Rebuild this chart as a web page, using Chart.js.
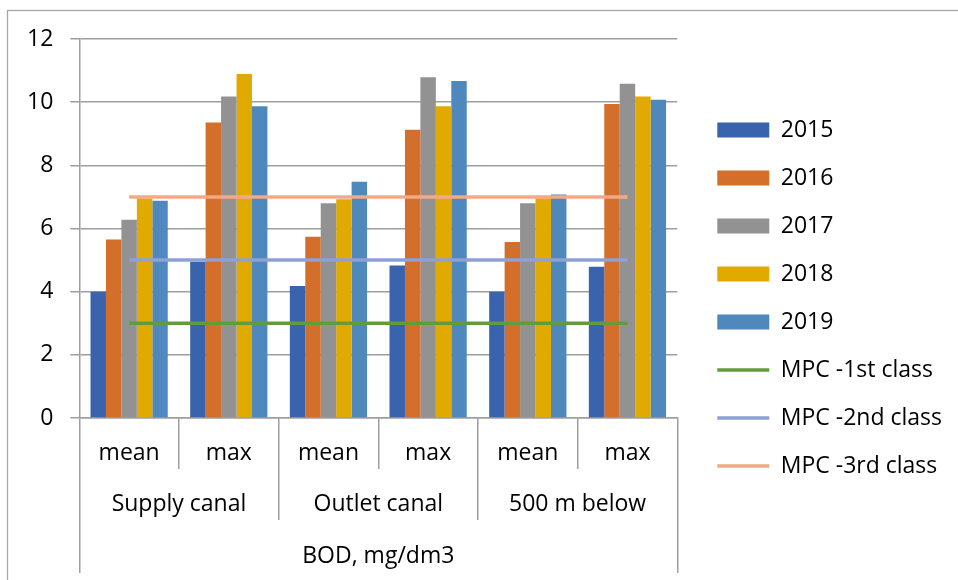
<!DOCTYPE html>
<html>
<head>
<meta charset="utf-8">
<script src="https://cdn.jsdelivr.net/npm/chart.js@4.4.0/dist/chart.umd.min.js"></script>
<style>
    html, body { margin: 0; padding: 0; background: #fff; }
    #wrap { width: 958px; height: 580px; }
</style>
</head>
<body>
<div id="wrap"><canvas id="bodChart" width="958" height="580"></canvas></div>
<script>
// ==================== Data ====================
const subLabels = ['mean', 'max', 'mean', 'max', 'mean', 'max'];
const siteLabels = ['Supply canal', 'Outlet canal', '500 m below'];
const paramLabel = ['BOD, mg/dm3'];
const years = ['2015', '2016', '2017', '2018', '2019'];

const bod2015 = [4.0, 4.95, 4.18, 4.83, 4.0, 4.79];
const bod2016 = [5.65, 9.36, 5.74, 9.13, 5.57, 9.94];
const bod2017 = [6.28, 10.18, 6.8, 10.79, 6.8, 10.58];
const bod2018 = [6.95, 10.89, 6.93, 9.87, 6.96, 10.18];
const bod2019 = [6.88, 9.87, 7.48, 10.67, 7.08, 10.08];

const mpcNames = ['MPC -1st class', 'MPC -2nd class', 'MPC -3rd class'];
const mpcLimits = [3, 5, 7];

const yMin = 0;
const yMax = 12;
const yStep = 2;

// ==================== Styles ====================
const yearColors = ['#3a63ad', '#d46e2b', '#929292', '#e0aa00', '#4f88bd'];
const mpcColors = ['#629b3c', '#8ea0d5', '#f3a887'];
const gridColor = '#9e9e9e';
const textColor = '#000';
const labelFont = { family: 'Open Sans', size: 23 };

const yearSeries = [bod2015, bod2016, bod2017, bod2018, bod2019];

const datasets = [];
years.forEach((year, i) => {
    datasets.push({
        type: 'bar',
        label: year,
        data: yearSeries[i],
        backgroundColor: yearColors[i],
        borderWidth: 0,
        categoryPercentage: 0.775,
        barPercentage: 1.0,
        order: 1
    });
});
mpcNames.forEach((name, i) => {
    datasets.push({
        type: 'line',
        label: name,
        data: subLabels.map(() => mpcLimits[i]),
        borderColor: mpcColors[i],
        backgroundColor: mpcColors[i],
        borderWidth: 3.5,
        pointRadius: 0,
        fill: false,
        order: 0
    });
});

// white page with the outer chart frame
const framePlugin = {
    id: 'frame',
    beforeDraw(chart) {
        const ctx = chart.ctx;
        ctx.save();
        ctx.fillStyle = '#fff';
        ctx.fillRect(0, 0, chart.width, chart.height);
        ctx.strokeStyle = '#a6a6a6';
        ctx.lineWidth = 1.3;
        ctx.strokeRect(7.5, 10.5, chart.width + 20, chart.height + 20);
        ctx.restore();
    }
};

// one row of the multi-level category axis
function levelAxis(labels, weight, rowHeight, showBorder) {
    return {
        type: 'category',
        labels: labels,
        position: 'bottom',
        weight: weight,
        offset: true,
        grid: {
            offset: true,
            drawOnChartArea: false,
            tickLength: rowHeight,
            color: gridColor,
            lineWidth: 1.5
        },
        border: { display: showBorder, color: gridColor, width: 1.5 },
        ticks: {
            font: labelFont,
            color: textColor,
            padding: -(rowHeight / 2 + 4),
            maxRotation: 0,
            autoSkip: false
        },
        afterFit(scale) {
            scale.height = rowHeight;
        }
    };
}

// empty spacer box, only reserves room in the layout
function spacer(position, size) {
    const horizontal = position === 'top' || position === 'bottom';
    return {
        type: horizontal ? 'category' : 'linear',
        position: position,
        display: true,
        grid: { display: false },
        border: { display: false },
        ticks: { display: false },
        afterFit(scale) {
            if (horizontal) scale.height = size;
            else scale.width = size;
        }
    };
}

const xSub = levelAxis(subLabels, 0, 51, true);
delete xSub.labels;

new Chart(document.getElementById('bodChart'), {
    data: {
        labels: subLabels,
        datasets: datasets
    },
    options: {
        responsive: false,
        animation: false,
        devicePixelRatio: 1,
        layout: {
            padding: { left: 10, top: 23, right: 6, bottom: 7 }
        },
        plugins: {
            legend: {
                position: 'right',
                align: 'center',
                maxWidth: 320,
                labels: {
                    font: labelFont,
                    color: textColor,
                    usePointStyle: true,
                    pointStyleWidth: 52,
                    boxHeight: 15,
                    padding: 25,
                    sort: (a, b) => a.datasetIndex - b.datasetIndex,
                    generateLabels(chart) {
                        const items = Chart.defaults.plugins.legend.labels.generateLabels(chart);
                        items.forEach(item => {
                            const ds = chart.data.datasets[item.datasetIndex];
                            item.pointStyle = ds.type === 'line' ? 'line' : 'rect';
                        });
                        return items;
                    }
                }
            },
            tooltip: { enabled: false }
        },
        scales: {
            x: xSub,
            x2: levelAxis(siteLabels, 1, 51, false),
            x3: levelAxis(paramLabel, 2, 53, false),
            y: {
                min: yMin,
                max: yMax,
                ticks: {
                    stepSize: yStep,
                    font: labelFont,
                    color: textColor,
                    padding: 17
                },
                grid: {
                    color: gridColor,
                    lineWidth: 1.5,
                    tickLength: 9
                },
                border: { color: gridColor, width: 1.5 }
            },
            gapTop: spacer('top', 16),
            gapRight: spacer('right', 15)
        }
    },
    plugins: [framePlugin]
});
</script>
</body>
</html>
